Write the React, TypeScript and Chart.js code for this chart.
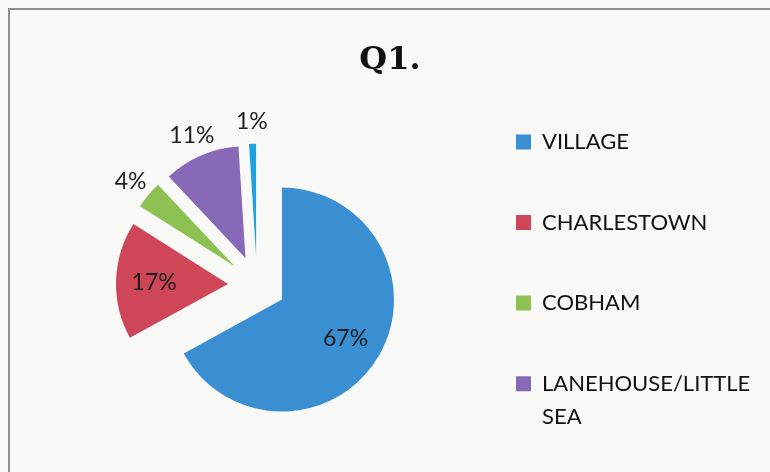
import { useEffect, useRef } from "react";
import { Chart, registerables } from "chart.js";

Chart.register(...registerables);

// ---- data ----
const categories = ["VILLAGE", "CHARLESTOWN", "COBHAM", "LANEHOUSE/LITTLE SEA", "OTHER"];
const legendText = [["VILLAGE"], ["CHARLESTOWN"], ["COBHAM"], ["LANEHOUSE/LITTLE", "SEA"]];
const values = [67, 17, 4, 11, 1];
const percentLabels = ["67%", "17%", "4%", "11%", "1%"];
const sliceColors = ["#3a8fd3", "#cf4659", "#8dc153", "#8869b8", "#1ea2e0"];
const chartTitle = "Q1.";

// ---- style constants ----
const EXPLODE = 29;
const RADIUS = 112;
const TITLE_CENTER_X = 390;
const FONT = "Lato, 'Open Sans', sans-serif";

const explodedPie = {
  id: "explodedPie",
  afterLayout(chart: any) {
    const tb = chart.titleBlock;
    if (tb) {
      const w = tb.right - tb.left;
      tb.left = TITLE_CENTER_X - w / 2;
      tb.right = TITLE_CENTER_X + w / 2;
    }
  },
  beforeDatasetDraw(chart: any, args: any) {
    const ctx = chart.ctx;
    args.meta.data.forEach((arc: any) => {
      const mid = (arc.startAngle + arc.endAngle) / 2;
      ctx.save();
      ctx.translate(Math.cos(mid) * EXPLODE, Math.sin(mid) * EXPLODE);
      arc.draw(ctx);
      ctx.restore();
    });
    return false;
  },
  afterDatasetsDraw(chart: any) {
    const meta = chart.getDatasetMeta(0);
    const ctx = chart.ctx;
    ctx.save();
    ctx.font = `23px ${FONT}`;
    ctx.fillStyle = "#1e1e1e";
    ctx.textAlign = "center";
    ctx.textBaseline = "middle";
    meta.data.forEach((arc: any, i: number) => {
      const mid = (arc.startAngle + arc.endAngle) / 2;
      const inside = values[i] >= 15;
      const r = inside ? EXPLODE + arc.outerRadius * 0.66 : EXPLODE + arc.outerRadius + 23;
      ctx.fillText(percentLabels[i], arc.x + Math.cos(mid) * r, arc.y + Math.sin(mid) * r + 1);
    });
    ctx.restore();
  },
};

export default function App() {
  const ref = useRef<HTMLCanvasElement>(null);
  useEffect(() => {
    const chart = new Chart(ref.current as HTMLCanvasElement, {
      type: "pie",
      data: {
        labels: categories,
        datasets: [
          {
            data: values,
            backgroundColor: sliceColors,
            borderWidth: 0,
            radius: RADIUS,
          } as any,
        ],
      },
      plugins: [explodedPie],
      options: {
        animation: false,
        responsive: false,
        events: [],
        layout: { padding: { left: 45.6, right: 15, top: 0, bottom: 0 } },
        plugins: {
          tooltip: { enabled: false },
          title: {
            display: true,
            text: chartTitle,
            color: "#111111",
            font: { family: "'DejaVu Serif', serif", size: 32, weight: "bold", lineHeight: 1.1 },
            padding: { top: 43.4, bottom: 1 },
          },
          legend: {
            position: "right",
            align: "center",
            fullSize: false,
            maxWidth: 286.6,
            labels: {
              boxWidth: 15,
              boxHeight: 15,
              padding: 47.6,
              color: "#111111",
              font: { family: FONT, size: 22, lineHeight: 1.5 },
              generateLabels: () =>
                legendText.map((t, i) => ({
                  text: t as any,
                  fillStyle: sliceColors[i],
                  strokeStyle: sliceColors[i],
                  lineWidth: 0,
                  hidden: false,
                  index: i,
                  fontColor: "#111111",
                })),
            },
          },
        },
      } as any,
    });
    return () => chart.destroy();
  }, []);

  return (
    <div
      style={{
        position: "fixed",
        left: 0,
        top: 0,
        width: 770,
        height: 472,
        overflow: "hidden",
        background: "#fbfbf9",
      }}
    >
      <div
        style={{
          position: "absolute",
          left: 8,
          top: 8,
          width: 800,
          height: 500,
          borderTop: "2px solid #8e8e8e",
          borderLeft: "2px solid #8e8e8e",
          background: "#f9f9f7",
        }}
      />
      <canvas ref={ref} width={770} height={490} style={{ position: "absolute", left: 0, top: 0 }} />
    </div>
  );
}
